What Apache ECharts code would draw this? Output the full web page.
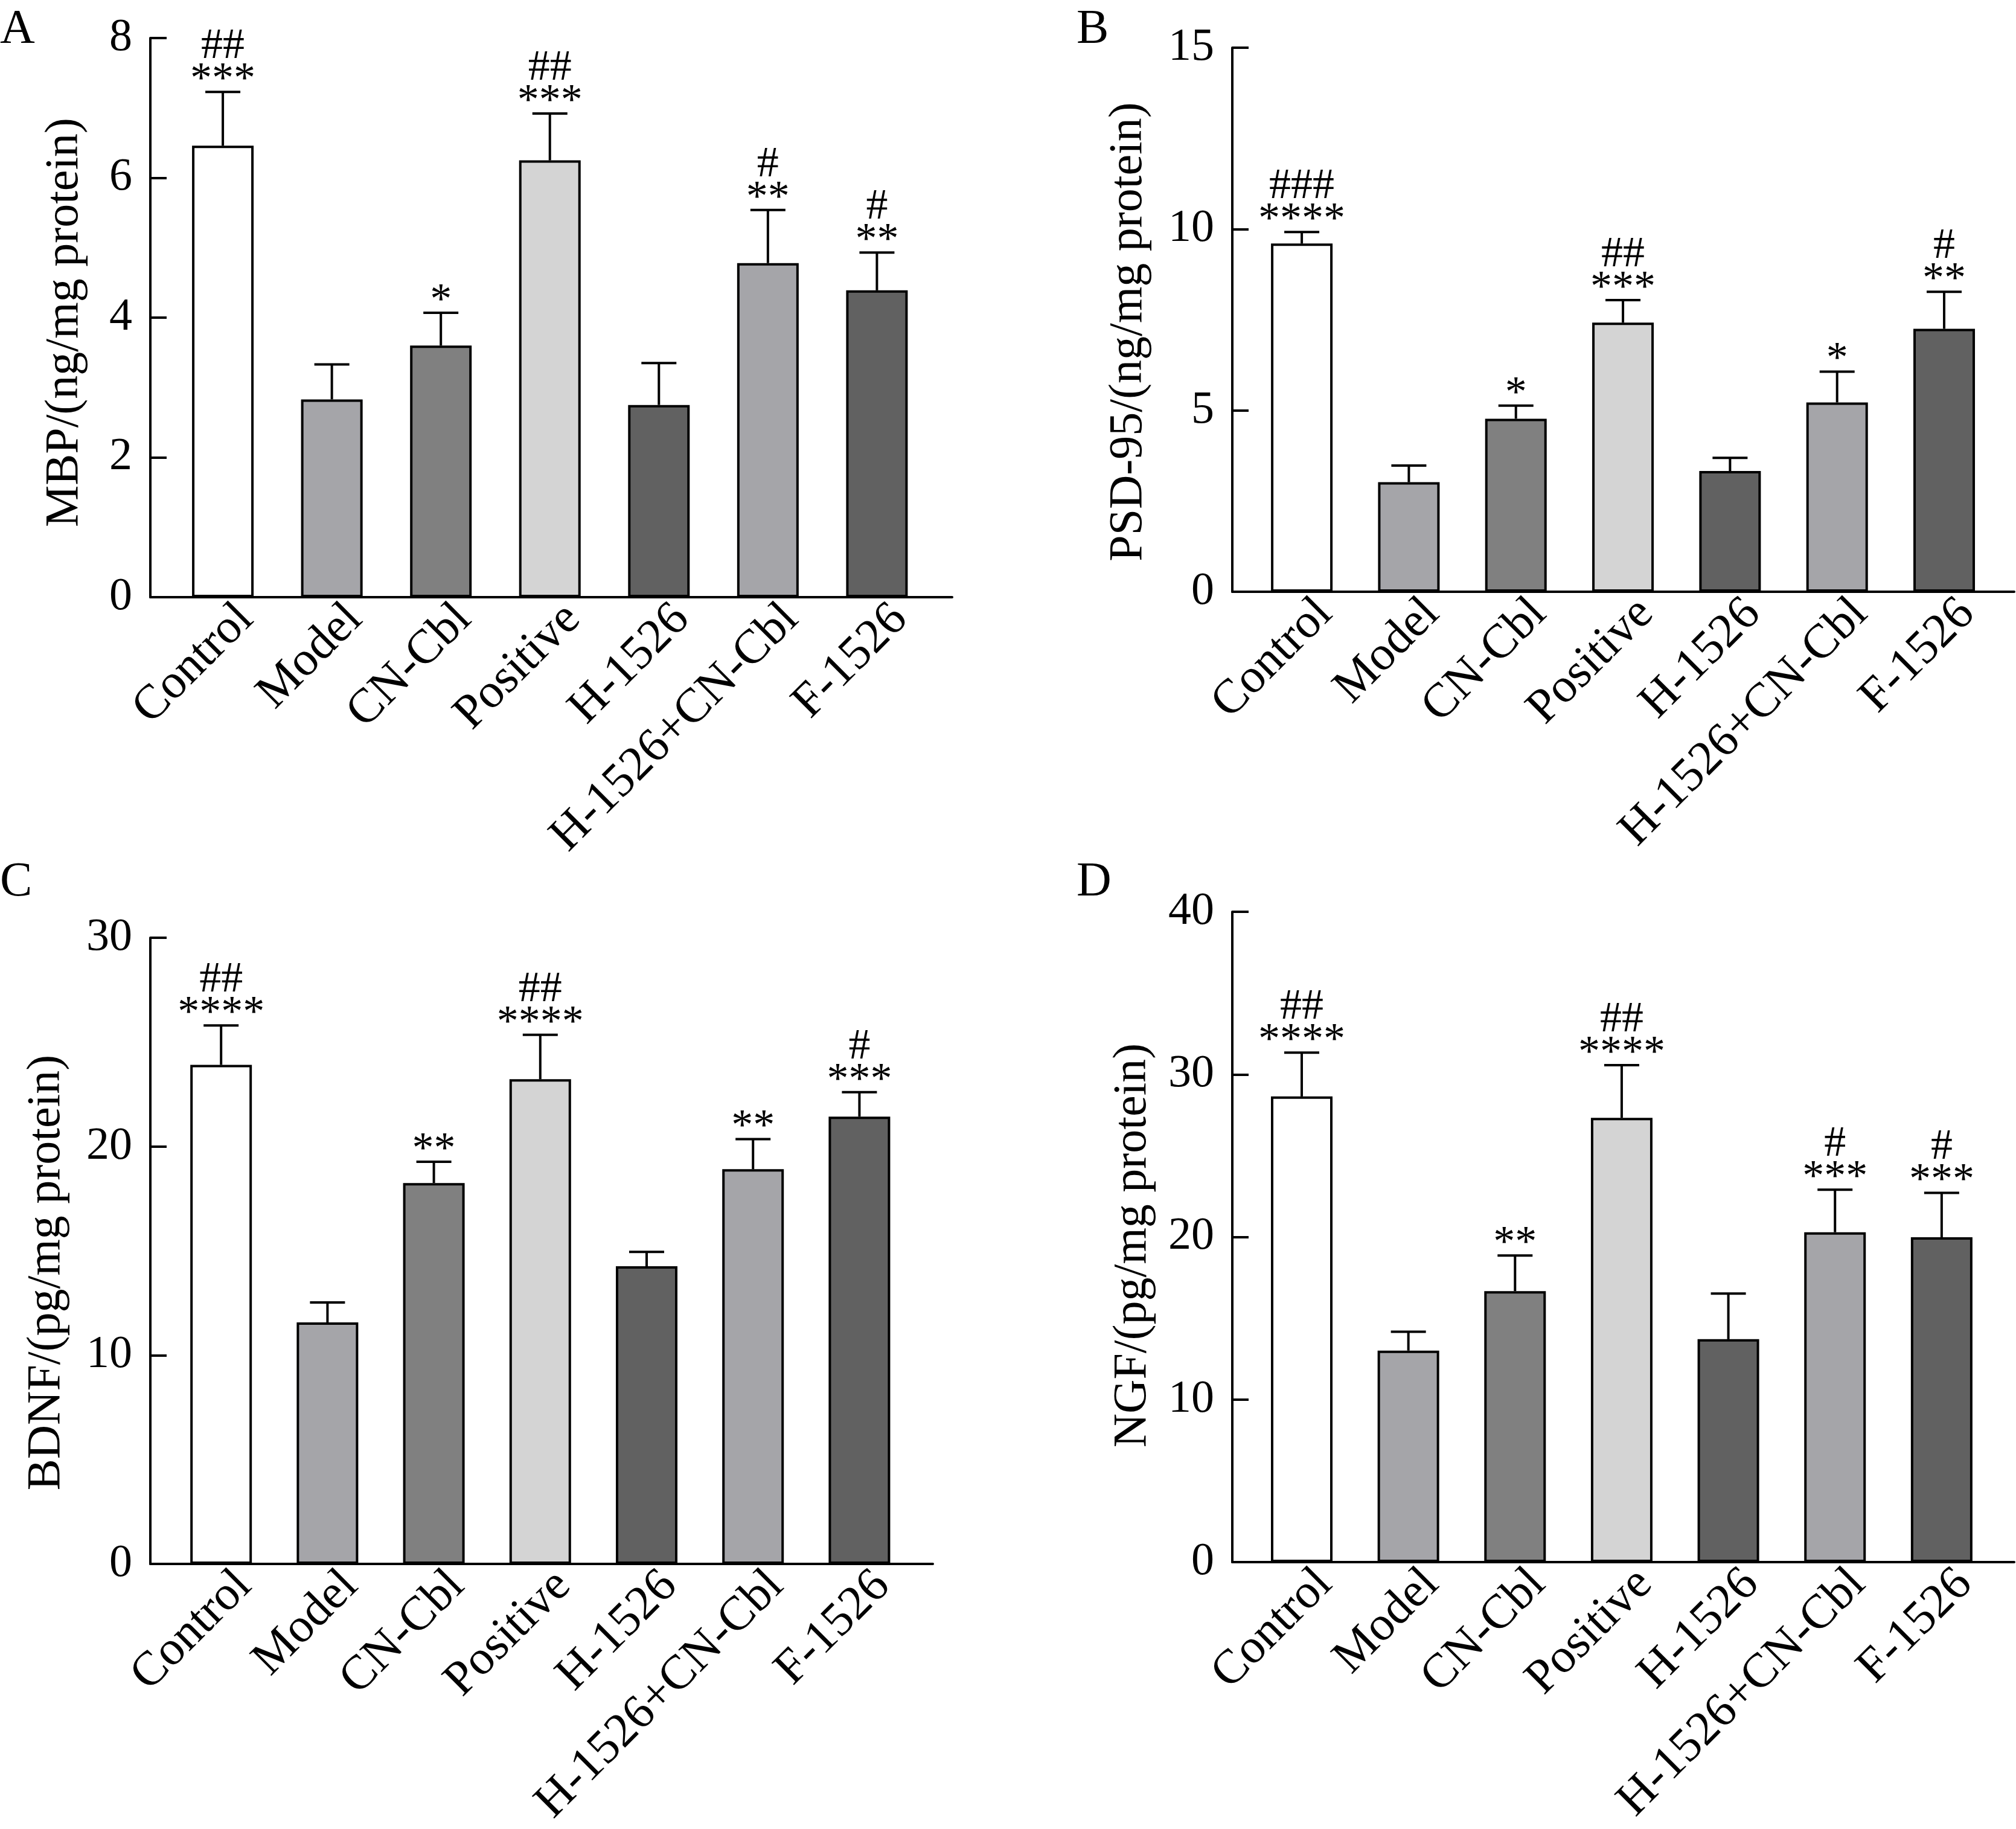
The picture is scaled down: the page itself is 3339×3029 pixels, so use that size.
<!DOCTYPE html>
<html lang="en">
	<head>
		<meta charset="UTF-8">
		<title>MBP / PSD-95 / BDNF / NGF</title>
		<script src="https://cdn.jsdelivr.net/npm/echarts@6/dist/echarts.min.js"></script>
		<style>
			html, body { margin: 0; padding: 0; background: #fff; }
			#chart { width: 3339px; height: 3029px; }
		</style>
	</head>
	<body>
		<div id="chart"></div>

		<script>
			// groups on the x axis
			const categories = ['Control', 'Model', 'CN-Cbl', 'Positive', 'H-1526', 'H-1526+CN-Cbl', 'F-1526'];
			const barColors = ['#ffffff', '#a5a5a9', '#808080', '#d4d4d4', '#616161', '#a5a5a9', '#616161'];

			// A: MBP
			const mbpMean = [6.46, 2.83, 3.60, 6.25, 2.75, 4.78, 4.39];
			const mbpSd = [0.77, 0.50, 0.47, 0.67, 0.60, 0.76, 0.54];
			const mbpStars = ['***', '', '*', '***', '', '**', '**'];
			const mbpHash = ['##', '', '', '##', '', '#', '#'];

			// B: PSD-95
			const psdMean = [9.60, 3.02, 4.77, 7.42, 3.33, 5.22, 7.25];
			const psdSd = [0.32, 0.46, 0.36, 0.62, 0.36, 0.85, 1.02];
			const psdStars = ['****', '', '*', '***', '', '*', '**'];
			const psdHash = ['###', '', '', '##', '', '', '#'];

			// C: BDNF
			const bdnfMean = [23.91, 11.57, 18.25, 23.22, 14.26, 18.91, 21.43];
			const bdnfSd = [1.89, 0.96, 1.02, 2.13, 0.69, 1.44, 1.17];
			const bdnfStars = ['****', '', '**', '****', '', '**', '***'];
			const bdnfHash = ['##', '', '', '##', '', '', '#'];

			// D: NGF
			const ngfMean = [28.64, 13.01, 16.67, 27.33, 13.71, 20.29, 19.98];
			const ngfSd = [2.70, 1.16, 2.19, 3.24, 2.81, 2.62, 2.73];
			const ngfStars = ['****', '', '**', '****', '', '***', '***'];
			const ngfHash = ['##', '', '', '##', '', '#', '#'];

			const FONT = '"Liberation Serif", "Times New Roman", serif';
			const tickPos = categories.map((c, i) => i);

			const panels = [
				{ letter: 'A', name: 'MBP/(ng/mg protein)', mean: mbpMean, sd: mbpSd, stars: mbpStars, hash: mbpHash,
					max: 8, interval: 2, grid: { left: 249, top: 63, width: 1328, height: 926 }, xMin: -0.665, xMax: 6.69, nameGap: 102, shift: 8, lx: 0, ly: 10 },
				{ letter: 'B', name: 'PSD-95/(ng/mg protein)', mean: psdMean, sd: psdSd, stars: psdStars, hash: psdHash,
					max: 15, interval: 5, grid: { left: 2041, top: 79, width: 1295, height: 901 }, xMin: -0.649, xMax: 6.654, nameGap: 132, shift: 20, lx: 1783, ly: 10 },
				{ letter: 'C', name: 'BDNF/(pg/mg protein)', mean: bdnfMean, sd: bdnfSd, stars: bdnfStars, hash: bdnfHash,
					max: 30, interval: 10, grid: { left: 249, top: 1553, width: 1296, height: 1037 }, xMin: -0.665, xMax: 6.69, nameGap: 132, shift: 36, lx: 0, ly: 1422 },
				{ letter: 'D', name: 'NGF/(pg/mg protein)', mean: ngfMean, sd: ngfSd, stars: ngfStars, hash: ngfHash,
					max: 40, interval: 10, grid: { left: 2041, top: 1510, width: 1295, height: 1077 }, xMin: -0.651, xMax: 6.68, nameGap: 125, shift: 14, lx: 1783, ly: 1422 }
			];

			const chart = echarts.init(document.getElementById('chart'));

			const option = {
				backgroundColor: '#ffffff',
				animation: false,
				title: [],
				grid: [],
				xAxis: [],
				yAxis: [],
				series: []
			};

			panels.forEach((p, k) => {
				option.title.push({
					text: p.letter,
					left: p.lx,
					top: p.ly,
					padding: 0,
					textStyle: { fontFamily: FONT, fontSize: 80, fontWeight: 'normal', color: '#000' }
				});

				option.grid.push(Object.assign({ containLabel: false, outerBoundsMode: 'none' }, p.grid));

				option.xAxis.push({
					type: 'value',
					gridIndex: k,
					min: p.xMin,
					max: p.xMax,
					splitLine: { show: false },
					axisLine: { show: true, onZero: false, lineStyle: { color: '#000', width: 4 } },
					axisTick: { show: true, inside: true, length: 19, customValues: tickPos, lineStyle: { color: '#000', width: 4 } },
					axisLabel: {
						customValues: tickPos,
						rotate: 45,
						margin: 6,
						align: 'right',
						verticalAlign: 'top',
						padding: [0, -14, 0, 0],
						color: '#000',
						fontFamily: FONT,
						fontSize: 80,
						formatter: v => categories[Math.round(v)]
					}
				});

				option.yAxis.push({
					type: 'value',
					gridIndex: k,
					min: 0,
					max: p.max,
					interval: p.interval,
					splitLine: { show: false },
					axisLine: { show: true, onZero: false, lineStyle: { color: '#000', width: 4 } },
					axisTick: { show: true, inside: true, length: 27, lineStyle: { color: '#000', width: 4 } },
					axisLabel: { margin: 30, color: '#000', fontFamily: FONT, fontSize: 76 },
					name: p.name,
					nameLocation: 'middle',
					nameGap: p.nameGap,
					nameTextStyle: { color: '#000', fontFamily: FONT, fontSize: 78, padding: [0, p.shift * 2, 0, 0] }
				});

				// bars
				option.series.push({
					type: 'bar',
					xAxisIndex: k,
					yAxisIndex: k,
					barWidth: 102,
					data: p.mean.map((v, i) => ({
						value: [i, v],
						itemStyle: { color: barColors[i], borderColor: '#000', borderWidth: 4 }
					}))
				});

				// error bars (mean to mean+SD) with significance marks
				option.series.push({
					type: 'custom',
					xAxisIndex: k,
					yAxisIndex: k,
					z: 5,
					data: p.mean.map((v, i) => [i, v, p.sd[i]]),
					renderItem: function (params, api) {
						const i = api.value(0);
						const m = api.value(1);
						const s = api.value(2);
						const base = api.coord([i, m]);
						const top = api.coord([i, m + s]);
						const lineStyle = { stroke: '#000', lineWidth: 4 };
						const children = [
							{ type: 'line', shape: { x1: top[0], y1: base[1], x2: top[0], y2: top[1] }, style: lineStyle },
							{ type: 'line', shape: { x1: top[0] - 29, y1: top[1], x2: top[0] + 29, y2: top[1] }, style: lineStyle }
						];
						const st = p.stars[params.dataIndex];
						const hs = p.hash[params.dataIndex];
						if (st) {
							children.push({
								type: 'text',
								style: { text: st, x: top[0], y: top[1] + 17, align: 'center', verticalAlign: 'bottom', fill: '#000', font: '72px ' + FONT }
							});
						}
						if (hs) {
							children.push({
								type: 'text',
								style: { text: hs, x: top[0], y: top[1] - 39, align: 'center', verticalAlign: 'bottom', fill: '#000', font: '72px ' + FONT }
							});
						}
						return { type: 'group', children: children };
					}
				});
			});

			chart.setOption(option);
		</script>
	</body>
</html>
